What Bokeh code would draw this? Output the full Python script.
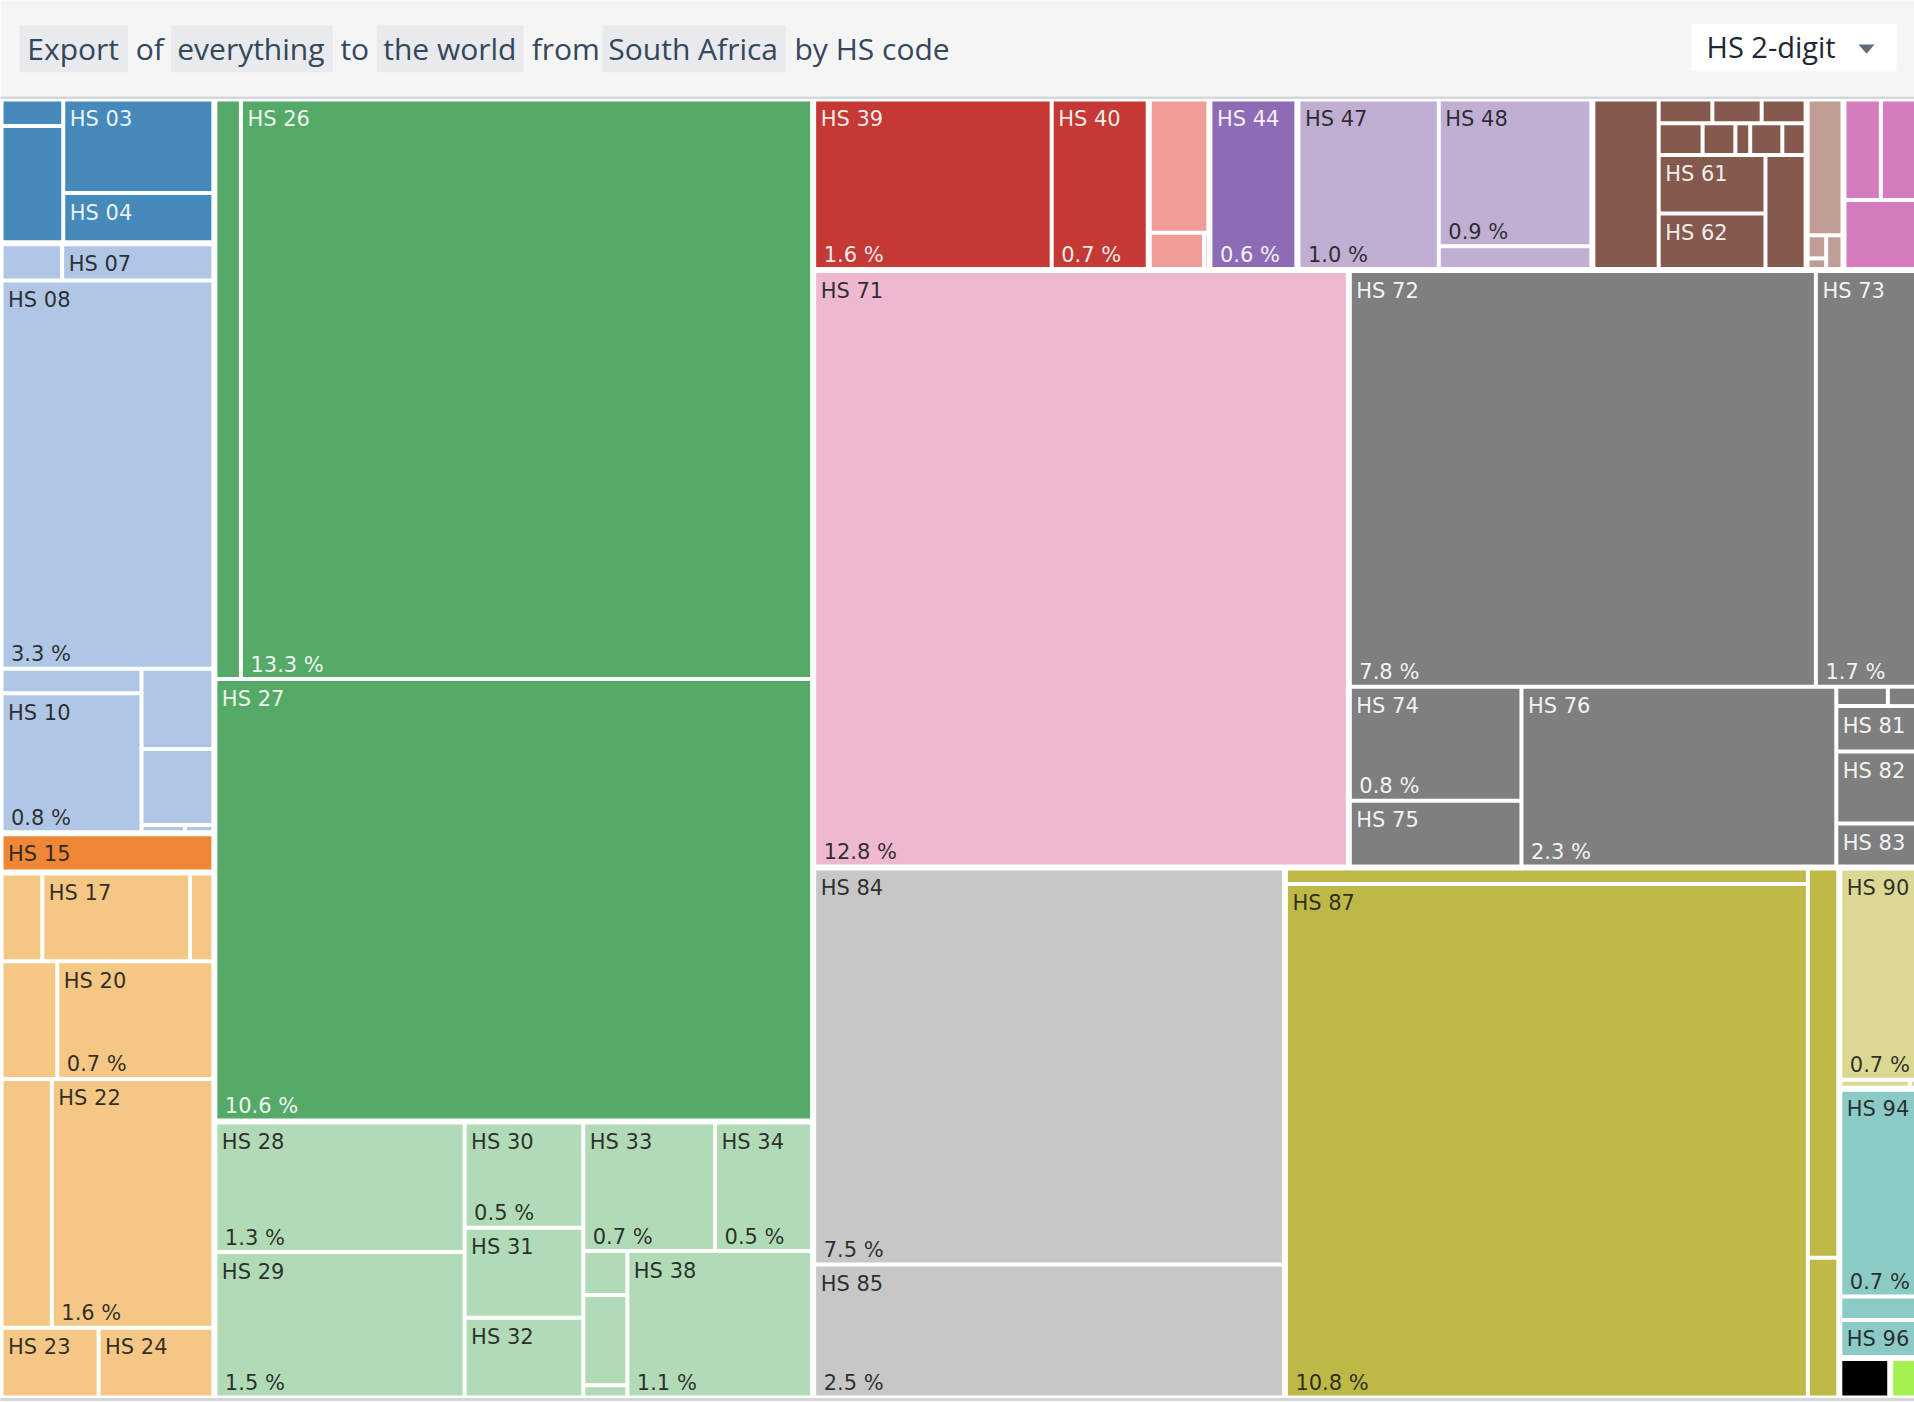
from bokeh.plotting import figure
from bokeh.models import ColumnDataSource, Range1d
from bokeh.embed import file_html
from bokeh.resources import INLINE
from bokeh.core.properties import value

# ---------------- data (share of South Africa's exports, %) ----------------
section_names = ["Animal Products", "Vegetable Products", "Animal and Vegetable Bi-Products",
                 "Foodstuffs", "Mineral Products", "Chemical Products", "Plastics and Rubbers",
                 "Animal Hides", "Wood Products", "Paper Goods", "Textiles", "Footwear and Headwear",
                 "Stone and Glass", "Precious Metals", "Metals", "Machines", "Transportation",
                 "Instruments", "Miscellaneous", "Arts and Antiques", "Unspecified"]
section_first_code = [1, 6, 15, 16, 25, 28, 39, 41, 44, 47, 50, 64, 68, 71, 72, 84, 86, 90, 93, 97, 98]

chapter_codes = ["01", "02", "03", "04",
                 "06", "07", "08", "09", "10", "11", "12", "13", "14",
                 "15",
                 "16", "17", "18", "19", "20", "21", "22", "23", "24",
                 "25", "26", "27",
                 "28", "29", "30", "31", "32", "33", "34", "35", "36", "37", "38",
                 "39", "40",
                 "41", "42", "43",
                 "44",
                 "47", "48", "49",
                 "51", "52", "53", "54", "55", "56", "57", "58", "59", "61", "62", "63",
                 "64", "65", "66", "67",
                 "68", "69", "70",
                 "71",
                 "72", "73", "74", "75", "76", "78", "79", "81", "82", "83",
                 "84", "85",
                 "86", "87", "88", "89",
                 "90", "91", "92",
                 "94", "95", "96",
                 "97",
                 "99"]
chapter_values = [0.067, 0.294, 0.575, 0.303,
                  0.089, 0.222, 3.33, 0.140, 0.788, 0.234, 0.221, 0.0127, 0.0083,
                  0.336,
                  0.145, 0.5245, 0.083, 0.266, 0.7445, 0.5075, 1.63, 0.274, 0.324,
                  0.596, 13.31, 10.59,
                  1.307, 1.465, 0.5056, 0.431, 0.3825, 0.6853, 0.505, 0.0783, 0.161, 0.0217, 1.094,
                  1.64, 0.663,
                  0.327, 0.0825, 0.0067,
                  0.604,
                  0.970, 0.912, 0.142,
                  0.4527, 0.0518, 0.0476, 0.0424, 0.0570, 0.0425, 0.0193, 0.0417, 0.0302, 0.2555, 0.2425, 0.1872,
                  0.2026, 0.0184, 0.0085, 0.0237,
                  0.152, 0.153, 0.2097,
                  12.80,
                  7.80, 1.70, 0.789, 0.4544, 2.281, 0.0405, 0.0232, 0.1486, 0.2352, 0.1408,
                  7.50, 2.518,
                  0.324, 10.80, 0.4775, 0.1715,
                  0.6752, 0.0228, 0.0025,
                  0.66, 0.0746, 0.118,
                  0.0827,
                  0.0459]

# ---------------- styles ----------------
section_colors = ["#4689BB", "#B0C6E5", "#EE8837", "#F5C784", "#55AA68", "#B1DAB7", "#C43933",
                  "#F09D99", "#8E6CB5", "#C0AFD2", "#85594D", "#BF9D95", "#D47CBE", "#EDB8D0",
                  "#7F7F7F", "#C7C7C7", "#BEB946", "#DBD893", "#8CCBC5", "#000000", "#A4F250"]
section_text_colors = ["#ffffff", "#1e1e1e", "#1e1e1e", "#1e1e1e", "#ffffff", "#1e1e1e", "#ffffff",
                       "#1e1e1e", "#ffffff", "#1e1e1e", "#ffffff", "#1e1e1e", "#1e1e1e", "#1e1e1e",
                       "#ffffff", "#1e1e1e", "#1e1e1e", "#1e1e1e", "#1e1e1e", "#ffffff", "#1e1e1e"]
# tiling: sequence of rows ("h" = row across the top, "v" = column at the left) with item counts
top_tiling = "v4 v2 h7 h2 v1 v1 h1 h1 v1 v1"
section_tiling = ["v2 v2", "h2 h1 v2 h1 h1 v1 v1", "h1", "h3 h2 h2 v1 v1", "h2 h1",
                  "v2 v3 h2 v3 v1", "v1 v1", "h1 v1 v1", "h1", "v1 h1 h1", "v1 h3 h5 v2 v1",
                  "h1 v2 v1", "h2 h1", "h1", "h2 v2 v1 h2 h1 h1 h1", "h1 h1", "v2 v2",
                  "h1 v1 v1", "h1 h1 h1", "h1", "h1"]


def section_of(code):
    c = int(code)
    s = 0
    for i, first in enumerate(section_first_code):
        if c >= first:
            s = i
    return s


def tile(vals, spec, x0, y0, x1, y1):
    rects = []
    remaining = float(sum(vals))
    i = 0
    for tok in spec.split():
        orient, cnt = tok[0], int(tok[1:])
        grp = vals[i:i + cnt]
        s = float(sum(grp))
        if orient == "h":
            yb = y0 + (y1 - y0) * s / remaining if remaining else y1
            xx = x0
            for v in grp:
                w = (x1 - x0) * v / s
                rects.append((xx, y0, xx + w, yb))
                xx += w
            y0 = yb
        else:
            xb = x0 + (x1 - x0) * s / remaining if remaining else x1
            yy = y0
            for v in grp:
                h = (y1 - y0) * v / s
                rects.append((x0, yy, xb, yy + h))
                yy += h
            x0 = xb
        remaining -= s
        i += cnt
    assert i == len(vals)
    return rects


W, H = 1914, 1402
TX0, TY0, TX1, TY1 = 0.0, 98.0, 1918.0, 1398.0

chapter_section = [section_of(c) for c in chapter_codes]
nsec = len(section_names)
sec_values = [sum(v for v, s in zip(chapter_values, chapter_section) if s == k) for k in range(nsec)]
total = sum(chapter_values)
sec_rects = tile(sec_values, top_tiling, TX0, TY0, TX1, TY1)

cells = dict(left=[], right=[], top=[], bottom=[], color=[])
names = dict(x=[], y=[], text=[], color=[])
pcts = dict(x=[], y=[], text=[], color=[])
for k, (a, b, c, d) in enumerate(sec_rects):
    idx = [i for i, s in enumerate(chapter_section) if s == k]
    vals = [chapter_values[i] for i in idx]
    crs = tile(vals, section_tiling[k], a + 1, b + 1, c - 1, d - 1)
    for i, (e, f, g, h) in zip(idx, crs):
        l, t, r, bt = e + 2, f + 2, g - 2, h - 2
        cells["left"].append(l)
        cells["right"].append(r)
        cells["top"].append(t)
        cells["bottom"].append(bt)
        cells["color"].append(section_colors[k])
        w, hh = min(r, W) - l, bt - t
        if w >= 69.5 and hh >= 24:
            names["x"].append(l + 4.5)
            names["y"].append(t + 17.5)
            names["text"].append("HS " + chapter_codes[i])
            names["color"].append(section_text_colors[k])
            if hh >= 95:
                pcts["x"].append(l + 7.5)
                pcts["y"].append(bt - 12.5)
                pcts["text"].append("%.1f %%" % (100.0 * chapter_values[i] / total))
                pcts["color"].append(section_text_colors[k])

p = figure(width=W, height=H, x_range=Range1d(0, W), y_range=Range1d(H, 0),
           output_backend="svg", toolbar_location=None, min_border=0)
p.axis.visible = False
p.grid.visible = False
p.outline_line_color = None
p.background_fill_color = "white"
p.border_fill_color = "white"

# header
p.quad(left=-20, right=W + 20, top=-20, bottom=96, fill_color="#f5f5f5", line_color=None)
p.quad(left=-20, right=W + 20, top=96, bottom=98.5, fill_color="#d3d6da", line_color=None)
p.quad(left=-20, right=W + 20, top=1397.5, bottom=1400.5, fill_color="#d3d6da", line_color=None)

title_words = ["Export", "of", "everything", "to", "the world", "from", "South Africa", "by HS code"]
title_x = [26.8, 135.2, 176.7, 339.9, 382.7, 531.2, 607.8, 794.0]
box_left = [19.1, 170.3, 376.3, 602.0]
box_right = [127.6, 332.3, 523.0, 785.7]
p.quad(left=box_left, right=box_right, top=25, bottom=71.7, fill_color="#e8eaed", line_color=None)
p.text(x=title_x, y=[48] * len(title_x), text=title_words, text_font=value("Open Sans"),
       text_font_size="30px", text_color="#34475b", text_baseline="middle")

# dropdown
p.quad(left=1691, right=1896, top=23.3, bottom=70.7, fill_color="white", line_color=None)
p.text(x=[1706], y=[45.5], text=["HS 2-digit"], text_font=value("Open Sans"),
       text_font_size="29px", text_color="#1d2833", text_baseline="middle")
p.patch(x=[1858, 1874, 1866], y=[44, 44, 53.3], fill_color="#5f6c7a", line_color=None)

# treemap
p.quad(left="left", right="right", top="top", bottom="bottom", fill_color="color",
       line_color=None, source=ColumnDataSource(cells))
p.text(x="x", y="y", text="text", text_color="color", source=ColumnDataSource(names),
       text_font=value("DejaVu Sans"), text_font_size="21px", text_baseline="middle",
       text_alpha=0.92)
p.text(x="x", y="y", text="text", text_color="color", source=ColumnDataSource(pcts),
       text_font=value("DejaVu Sans"), text_font_size="21px", text_baseline="middle",
       text_alpha=0.92)

open("out.html", "w").write(file_html(p, INLINE))
